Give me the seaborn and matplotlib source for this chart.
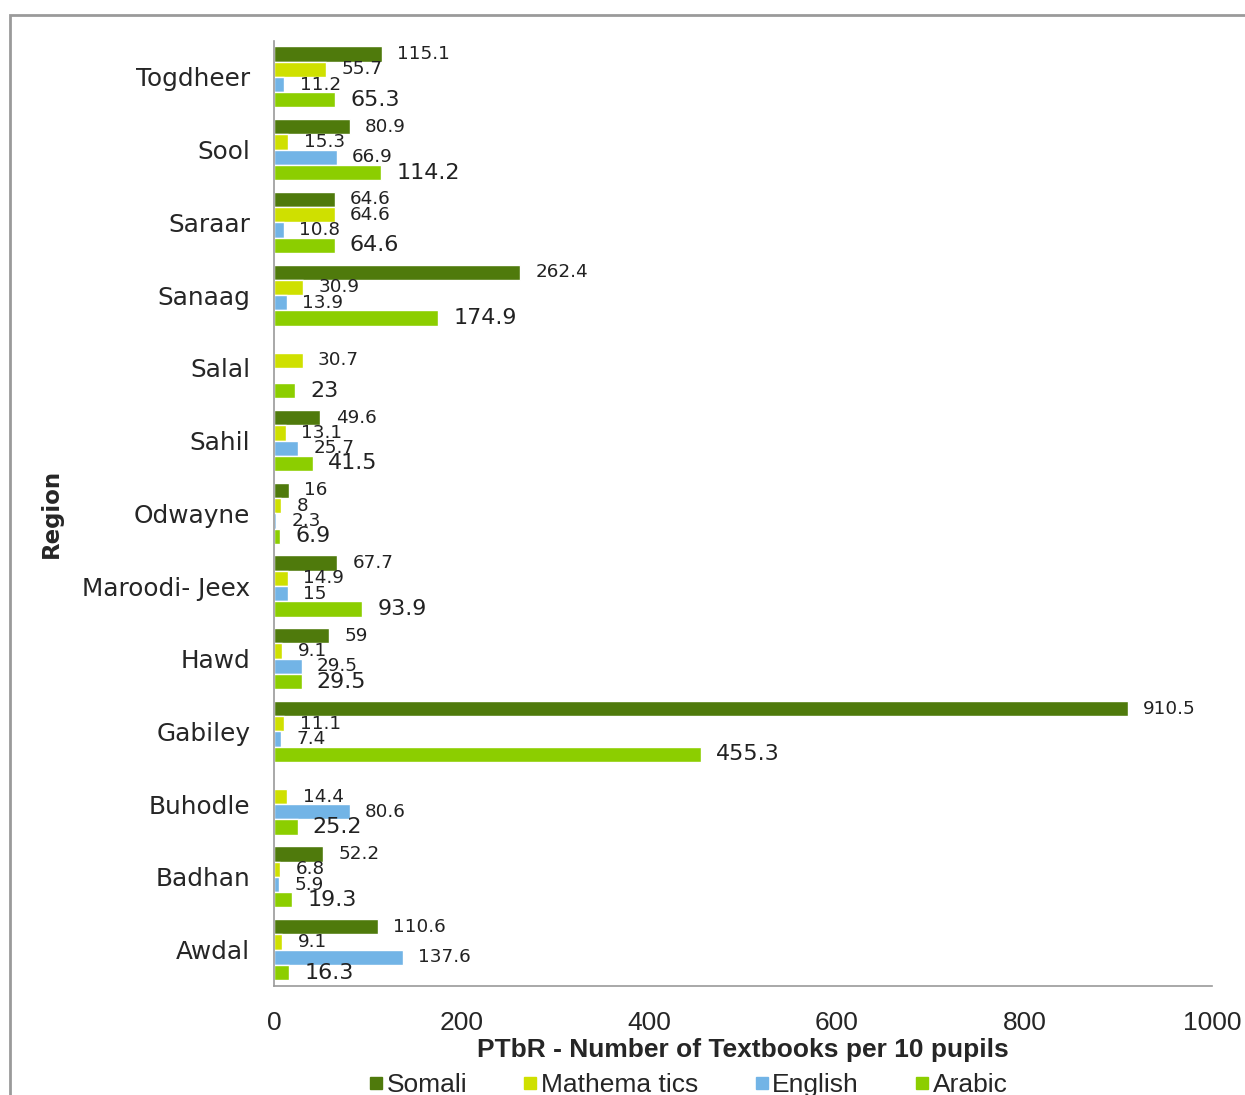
import numpy as np
import pandas as pd
import matplotlib
matplotlib.use("Agg")
import matplotlib.pyplot as plt
from matplotlib.patches import Rectangle
import seaborn as sns

regions = ["Togdheer", "Sool", "Saraar", "Sanaag", "Salal", "Sahil", "Odwayne",
           "Maroodi- Jeex", "Hawd", "Gabiley", "Buhodle", "Badhan", "Awdal"]
subjects = ["Somali", "Mathematics", "English", "Arabic"]
legend_labels = ["Somali", "Mathema tics", "English", "Arabic"]

somali = [115.1, 80.9, 64.6, 262.4, np.nan, 49.6, 16, 67.7, 59, 910.5, np.nan, 52.2, 110.6]
mathematics = [55.7, 15.3, 64.6, 30.9, 30.7, 13.1, 8, 14.9, 9.1, 11.1, 14.4, 6.8, 9.1]
english = [11.2, 66.9, 10.8, 13.9, np.nan, 25.7, 2.3, 15, 29.5, 7.4, 80.6, 5.9, 137.6]
arabic = [65.3, 114.2, 64.6, 174.9, 23, 41.5, 6.9, 93.9, 29.5, 455.3, 25.2, 19.3, 16.3]

colors = ["#4f7a0c", "#cfe000", "#72b4e6", "#8cce00"]
xticks = [0, 200, 400, 600, 800, 1000]

series = {"Somali": somali, "Mathematics": mathematics, "English": english, "Arabic": arabic}
rows = []
for subj, vals in series.items():
    for reg, v in zip(regions, vals):
        rows.append({"Region": reg, "Subject": subj, "PTbR": v})
df = pd.DataFrame(rows).dropna()

sns.set_theme(style="white")
plt.rcParams["font.family"] = ["DejaVu Sans"]

narrow = ["Liberation Sans Narrow", "Liberation Sans"]

fig = plt.figure(figsize=(12.45, 10.95), dpi=100)
ax = fig.add_axes([0.220, 0.0995, 0.7535, 0.8635])

sns.barplot(data=df, y="Region", x="PTbR", hue="Subject", order=regions,
            hue_order=subjects, palette=colors, orient="h", width=0.84,
            saturation=1, errorbar=None, ax=ax, legend=False)

# value labels at the bar ends
label_sizes = [13.2, 13.2, 13.2, 16]
for cont, fs in zip(ax.containers, label_sizes):
    labels = []
    for bar in cont:
        w = bar.get_width()
        labels.append("" if np.isnan(w) else f"{w:g}")
    ax.bar_label(cont, labels=labels, padding=11, fontsize=fs, color="#222222")

ax.set_xlim(0, 1000)
ax.set_xticks(xticks)
ax.set_xticklabels([str(t) for t in xticks], fontdict={"family": narrow, "size": 19})
ax.tick_params(axis="x", length=0, pad=18)
ax.tick_params(axis="y", length=0, pad=17, labelsize=17.8)

ax.set_xlabel("PTbR - Number of Textbooks per 10 pupils", family=narrow,
              fontsize=19, fontweight="bold", labelpad=2)
ax.set_ylabel("Region", fontsize=16.5, fontweight="bold", labelpad=14)

for side in ["top", "right"]:
    ax.spines[side].set_visible(False)
for side in ["left", "bottom"]:
    ax.spines[side].set_color("#9a9a9a")
    ax.spines[side].set_linewidth(1.2)

handles = [plt.Line2D([], [], marker="s", linestyle="none", markersize=9,
                      markerfacecolor=c, markeredgecolor=c) for c in colors]
fig.legend(handles, legend_labels, loc="center", bbox_to_anchor=(0.553, 0.009),
           ncol=4, frameon=False, handlelength=0.5, handletextpad=0.15,
           columnspacing=2.15, prop={"family": narrow, "size": 19})

fig.patches.append(Rectangle((10 / 1245, -0.02), 1.2, 1 - 15 / 1095 + 0.02,
                             transform=fig.transFigure, fill=False,
                             edgecolor="#9a9a9a", linewidth=2))

fig.savefig("out.png", dpi=100)
